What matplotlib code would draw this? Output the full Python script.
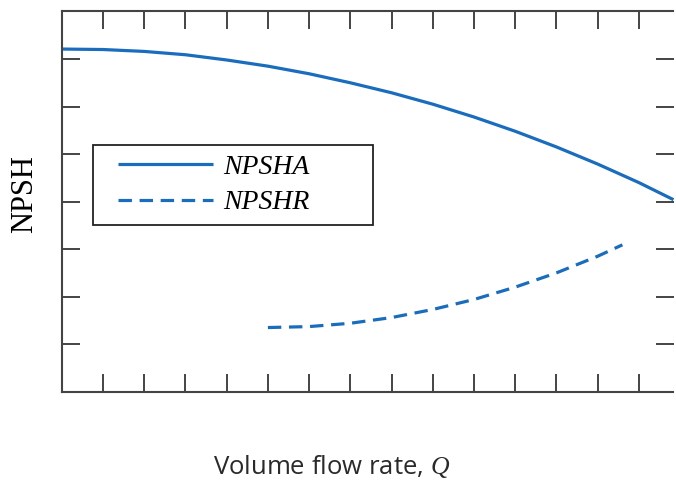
import matplotlib
matplotlib.use("Agg")
import matplotlib.pyplot as plt
from matplotlib.legend_handler import HandlerLine2D

plt.rcParams['mathtext.fontset'] = 'custom'
plt.rcParams['mathtext.it'] = 'Liberation Serif:italic'
plt.rcParams['mathtext.rm'] = 'Liberation Serif'

# Data (arbitrary units)
npsha_x = [0, 1, 2, 3, 4, 5, 6, 7, 8, 9, 10, 11, 12, 13, 14, 14.84]
npsha_y = [7.21, 7.20, 7.16, 7.09, 6.98, 6.85, 6.69, 6.50, 6.29, 6.05, 5.78, 5.48, 5.15, 4.79, 4.40, 4.04]
npshr_x = [5, 6, 7, 8, 9, 10, 11, 12, 13, 13.6]
npshr_y = [1.35, 1.37, 1.44, 1.56, 1.73, 1.94, 2.20, 2.50, 2.85, 3.09]
x_ticks = list(range(1, 15))
y_ticks = list(range(1, 8))
labels = ["NPSHA", "NPSHR"]

color = "#1a6dbd"
frame = "#444444"

fig = plt.figure(figsize=(6.76, 4.83), dpi=100)
ax_l, ax_b = 61.8, 391.7
ax_w, ax_h = 673.5 - 61.8, 391.7 - 11.5
ax = fig.add_axes([ax_l/676, 1 - ax_b/483, ax_w/676, ax_h/483])

l1, = ax.plot(npsha_x, npsha_y, color=color, lw=2.3, label=labels[0], solid_capstyle='butt')
l2, = ax.plot(npshr_x, npshr_y, color=color, lw=2.3, dashes=(4.2, 2.4), label=labels[1])

ax.set_xlim(0, 14.84)
ax.set_ylim(0, 8)
ax.set_xticks(x_ticks)
ax.set_yticks(y_ticks)
ax.tick_params(direction='in', length=13, width=1.4, color=frame,
               top=True, right=True, labelbottom=False, labelleft=False)
for s in ['left', 'top', 'bottom']:
    ax.spines[s].set_color(frame)
    ax.spines[s].set_linewidth(1.5)
ax.spines['right'].set_visible(False)

# legend box: x 93..373 px, top 145 px
bx0 = (93 - ax_l) / ax_w
bw = (373 - 93) / ax_w
btop = (ax_b - 145) / ax_h
bh = 0.2
hmap = {l1: HandlerLine2D(marker_pad=0.55), l2: HandlerLine2D(marker_pad=0.55)}
leg = ax.legend(loc='upper left', bbox_to_anchor=(bx0, btop - bh, bw, bh), mode='expand',
                borderaxespad=0, fancybox=False, framealpha=1, edgecolor='#222222',
                prop={'family': 'Liberation Serif', 'style': 'italic', 'size': 20},
                handlelength=4.52, handletextpad=-0.19, borderpad=0.34, labelspacing=0.36,
                numpoints=2, handler_map=hmap)
leg.get_frame().set_linewidth(1.3)

fig.text(25/676, 1 - 194/483, "NPSH", rotation=90, ha='center', va='center',
         family='Liberation Serif', fontsize=22)
fig.text(331.5/676, 1 - 467/483, r"Volume flow rate, $\mathit{Q}$", ha='center', va='center',
         family='Open Sans', fontsize=18.5, color='#2a2a2a')

fig.savefig("out.png", dpi=100)
